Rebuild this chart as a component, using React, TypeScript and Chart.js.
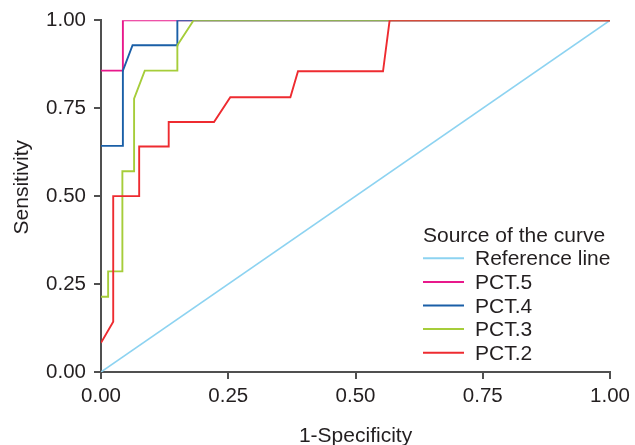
import React, { useEffect, useRef } from "react";
import { Chart, registerables } from "chart.js";

Chart.register(...registerables);

// ---- data ----
const seriesNames = ["Reference line", "PCT.5", "PCT.4", "PCT.3", "PCT.2"];
const seriesColors = ["#8dd3f1", "#e8198b", "#1a5fa7", "#a6cd3a", "#ee2b30"];

const referenceX = [0, 1];
const referenceY = [0, 1];

const pct5X = [0, 0.043, 0.043, 1];
const pct5Y = [0.857, 0.857, 1, 1];

const pct4X = [0, 0.043, 0.043, 0.062, 0.15, 0.15, 1];
const pct4Y = [0.643, 0.643, 0.857, 0.929, 0.929, 1, 1];

const pct3X = [0, 0.014, 0.014, 0.042, 0.042, 0.065, 0.065, 0.086, 0.15, 0.15, 0.182, 1];
const pct3Y = [0.214, 0.214, 0.286, 0.286, 0.571, 0.571, 0.777, 0.857, 0.857, 0.929, 1, 1];

const pct2X = [0, 0.024, 0.024, 0.075, 0.075, 0.133, 0.133, 0.222, 0.254, 0.372, 0.387, 0.554, 0.567, 1];
const pct2Y = [0.083, 0.143, 0.5, 0.5, 0.641, 0.641, 0.711, 0.711, 0.781, 0.781, 0.855, 0.855, 1, 1];

const xTickValues = [0, 0.25, 0.5, 0.75, 1];
const yTickValues = [0, 0.25, 0.5, 0.75, 1];

const xTitle = "1-Specificity";
const yTitle = "Sensitivity";
const legendTitle = "Source of the curve";

const FONT = '"Liberation Sans", Arial, Helvetica, sans-serif';
const TEXT = "#231f20";
const AXIS = "#505050";

function pts(xs: number[], ys: number[]) {
  return xs.map((x, i) => ({ x, y: ys[i] }));
}

const overlayPlugin = {
  id: "overlay",
  afterDraw(chart: any) {
    const ctx = chart.ctx as CanvasRenderingContext2D;
    const area = chart.chartArea;
    ctx.save();
    ctx.font = `21px ${FONT}`;
    ctx.fillStyle = TEXT;
    ctx.textBaseline = "alphabetic";
    // axis titles
    ctx.textAlign = "center";
    ctx.fillText(xTitle, (area.left + area.right) / 2, 442);
    ctx.save();
    ctx.translate(28, (area.top + area.bottom) / 2 - 9);
    ctx.rotate(-Math.PI / 2);
    ctx.fillText(yTitle, 0, 0);
    ctx.restore();
    // legend
    ctx.textAlign = "left";
    const lx = 423;
    const baseY = 241.7;
    const step = 23.6;
    ctx.fillText(legendTitle, lx, baseY);
    seriesNames.forEach((name, i) => {
      const by = baseY + step * (i + 1);
      ctx.strokeStyle = seriesColors[i];
      ctx.lineWidth = 2;
      ctx.beginPath();
      ctx.moveTo(lx, by - 7);
      ctx.lineTo(lx + 41, by - 7);
      ctx.stroke();
      ctx.fillStyle = TEXT;
      ctx.fillText(name, lx + 52, by);
    });
    ctx.restore();
  },
};

export default function App() {
  const ref = useRef<HTMLCanvasElement | null>(null);

  useEffect(() => {
    document.body.style.margin = "0";
    const canvas = ref.current;
    if (!canvas) return;
    const seriesData = [
      pts(referenceX, referenceY),
      pts(pct5X, pct5Y),
      pts(pct4X, pct4Y),
      pts(pct3X, pct3Y),
      pts(pct2X, pct2Y),
    ];
    // later series drawn on top: in Chart.js index 0 is drawn last, so reverse
    const datasets = seriesNames
      .map((name, i) => ({
        label: name,
        data: seriesData[i],
        showLine: true,
        borderColor: seriesColors[i],
        backgroundColor: seriesColors[i],
        borderWidth: i === 0 ? 1.6 : 1.9,
        pointRadius: 0,
        pointHoverRadius: 0,
        tension: 0,
        fill: false,
      }))
      .reverse();

    const chart = new Chart(canvas, {
      type: "scatter",
      data: { datasets },
      options: {
        responsive: false,
        animation: false,
        layout: { padding: { left: 0, right: 23, top: 20, bottom: 0 } },
        plugins: { legend: { display: false }, tooltip: { enabled: false } },
        scales: {
          x: {
            type: "linear",
            min: 0,
            max: 1,
            afterBuildTicks: (scale: any) => {
              scale.ticks = xTickValues.map((v) => ({ value: v }));
            },
            afterFit: (scale: any) => {
              scale.height = 73;
            },
            ticks: {
              callback: (v: any) => Number(v).toFixed(2),
              font: { family: FONT, size: 20.5 },
              color: TEXT,
              padding: 5,
              maxRotation: 0,
            },
            grid: {
              drawOnChartArea: false,
              drawTicks: true,
              tickLength: 7,
              color: AXIS,
              lineWidth: 2,
            },
            border: { display: true, color: AXIS, width: 2 },
          },
          y: {
            type: "linear",
            min: 0,
            max: 1,
            afterBuildTicks: (scale: any) => {
              scale.ticks = yTickValues.map((v) => ({ value: v }));
            },
            afterFit: (scale: any) => {
              scale.width = 101;
            },
            ticks: {
              callback: (v: any) => Number(v).toFixed(2),
              font: { family: FONT, size: 20.5 },
              color: TEXT,
              padding: 8,
            },
            grid: {
              drawOnChartArea: false,
              drawTicks: true,
              tickLength: 7,
              color: AXIS,
              lineWidth: 2,
            },
            border: { display: true, color: AXIS, width: 2 },
          },
        },
      },
      plugins: [overlayPlugin],
    } as any);
    return () => chart.destroy();
  }, []);

  return (
    <div style={{ width: 635, height: 445 }}>
      <canvas ref={ref} width={635} height={445} style={{ display: "block" }} />
    </div>
  );
}
